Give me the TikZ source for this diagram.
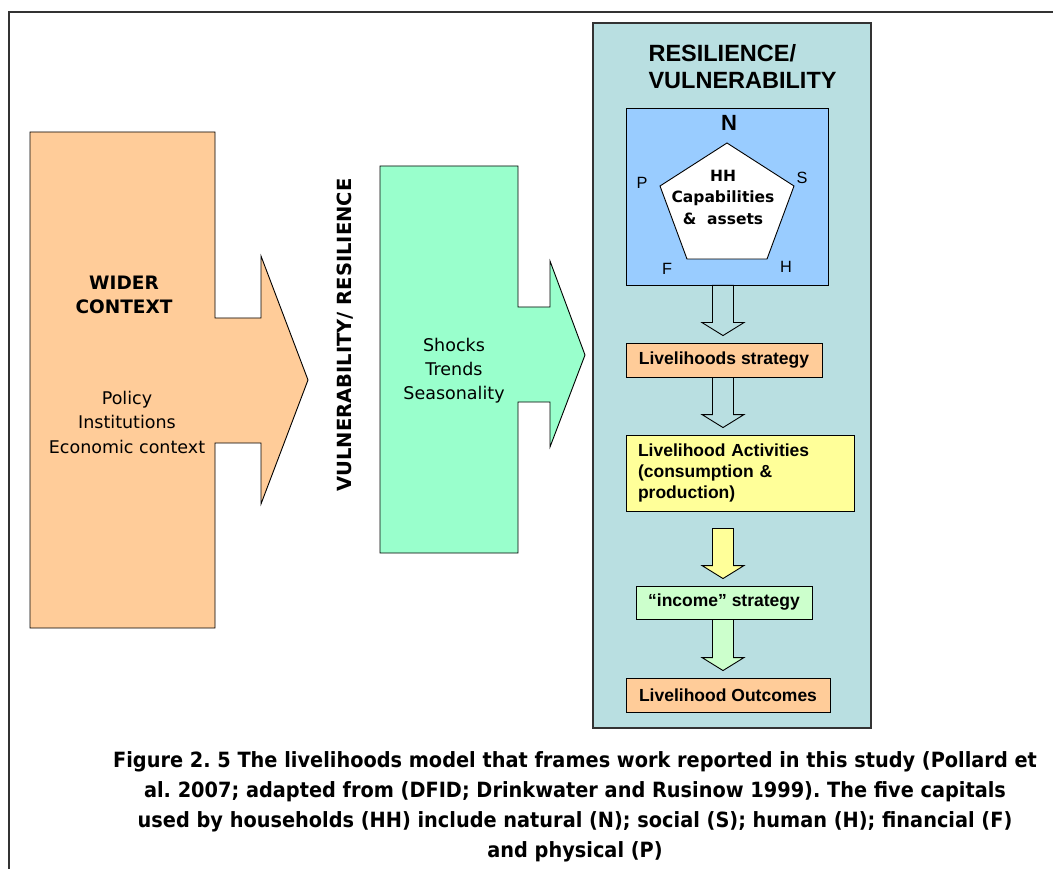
\documentclass[tikz,border=0pt]{standalone}
\usepackage{fontspec}
\setmainfont{Liberation Sans}
\newfontfamily\tahoma{DejaVu Sans}
\newfontfamily\captionfont[FakeStretch=0.92]{DejaVu Sans}
\usepackage{xcolor}
\definecolor{peach}{RGB}{255,204,153}
\definecolor{mint}{RGB}{153,255,204}
\definecolor{panelteal}{RGB}{185,223,225}
\definecolor{capblue}{RGB}{153,204,255}
\definecolor{paleyellow}{RGB}{255,255,153}
\definecolor{palegreen}{RGB}{204,255,204}
\definecolor{framegray}{gray}{.2}
\usepackage{tikz}
\usetikzlibrary{calc}
\frenchspacing
\newcommand{\fs}[2]{\fontsize{#1}{#2}\selectfont}
\newcommand{\flowarrow}[4][0]{%
  \draw[flow, fill=#4]
    ($(spine |- #2.south)+(-10.5,#1)$) -- ($(spine |- #3.north)+(-10.5,-20)$)
    -- ++(-10.5,0) -- ($(spine |- #3.north)+(0,-7)$)
    -- ($(spine |- #3.north)+(21,-20)$) -- ++(-10.5,0)
    -- ($(spine |- #2.south)+(10.5,#1)$) -- cycle;}
\tikzset{
    outline/.style={draw=black, line width=0.9pt, line join=miter},
    bigarrow/.style={outline},
    flow/.style={outline},
    box/.style={outline, rectangle, inner sep=0pt, font=\bfseries\fs{17.5}{21}},
    capital/.style={font=\fs{16.3}{16}},
    plain/.style={font=\tahoma\fs{17.5}{24.5}, align=center},
}

\begin{document}
\begin{tikzpicture}[x=1pt, y=-1pt]
    \useasboundingbox[fill=white] (0,0) rectangle (1053,869);
    \draw[framegray, line width=1.5pt] (9,869) -- (9,12) -- (1053,12);

    \draw[bigarrow, fill=peach] (30,132) -- (215,132) -- (215,318) -- (261,318) -- (261,256)
        -- (308,380) -- (261,504) -- (261,443) -- (215,443) -- (215,628) -- (30,628) -- cycle;
    \draw[bigarrow, fill=mint] (380,166) -- (518,166) -- (518,307) -- (550,307) -- (550,261)
        -- (585,355) -- (550,447) -- (550,402) -- (518,402) -- (518,553) -- (380,553) -- cycle;

    \node[align=center, font=\tahoma\bfseries\fs{18.5}{24}] (wider) at (124,295) {WIDER\\CONTEXT};
    \node[plain] (policy) at (127,422) {Policy\\Institutions\\Economic context};
    \node[plain, font=\tahoma\fs{17.5}{24}] (shocks) at (454,371) {Shocks\\Trends\\Seasonality};
    \node[rotate=90, font=\tahoma\bfseries\fs{19.5}{20}] (vuln) at (345,335) {VULNERABILITY/ RESILIENCE};

    \node[draw=framegray, line width=1.2pt, fill=panelteal, minimum width=278, minimum height=705]
        (panel) at (732,375.5) {};
    \node[anchor=west, align=left, font=\bfseries\fs{23.5}{27}] (title) at (645,66.5)
        {RESILIENCE/\\VULNERABILITY};

    \node[box, fill=capblue, minimum width=202, minimum height=177] (capitals) at (727,196.5) {};
    \draw[outline, fill=white] (727,143) -- (794,186) -- (767,259) -- (687,259) -- (660,186) -- cycle;
    \node[align=center, font=\tahoma\bfseries\fs{15.5}{21.5}] (hh) at (723,197) {HH\\Capabilities\\\&\ \ assets};
    \node[font=\bfseries\fs{22}{22}] (natural) at (729,123) {N};
    \node[capital] (physical) at (642,183) {P};
    \node[capital] (social) at (802,178) {S};
    \node[capital] (financial) at (667,269) {F};
    \node[capital] (human) at (786,267) {H};

    \path
        node[box, fill=peach, minimum width=196, minimum height=34] (strategy) at (724,360)
            {Livelihoods strategy}
        node[box, fill=paleyellow, minimum width=228, minimum height=76, align=left,
            text width=204, inner xsep=12] (activities) at (740,473)
            {Livelihood Activities\\(consumption \&\\production)}
        node[box, fill=palegreen, minimum width=176, minimum height=33] (income) at (724,602.5)
            {“income” strategy}
        node[box, fill=peach, minimum width=204, minimum height=34] (outcomes) at (728,695)
            {Livelihood Outcomes};

    \coordinate (spine) at (723,0);
    \flowarrow{capitals}{strategy}{panelteal}
    \flowarrow{strategy}{activities}{panelteal}
    \flowarrow[17]{activities}{income}{paleyellow}
    \flowarrow{income}{outcomes}{palegreen}

    \node[align=center, font=\captionfont\bfseries\fs{21}{30}] (caption) at (575,806.5)
        {Figure 2. 5 The livelihoods model that frames work reported in this study (Pollard et\\
         al. 2007; adapted from (DFID; Drinkwater and Rusinow 1999). The five capitals\\
         used by households (HH) include natural (N); social (S); human (H); financial (F)\\
         and physical (P)};
\end{tikzpicture}
\end{document}
